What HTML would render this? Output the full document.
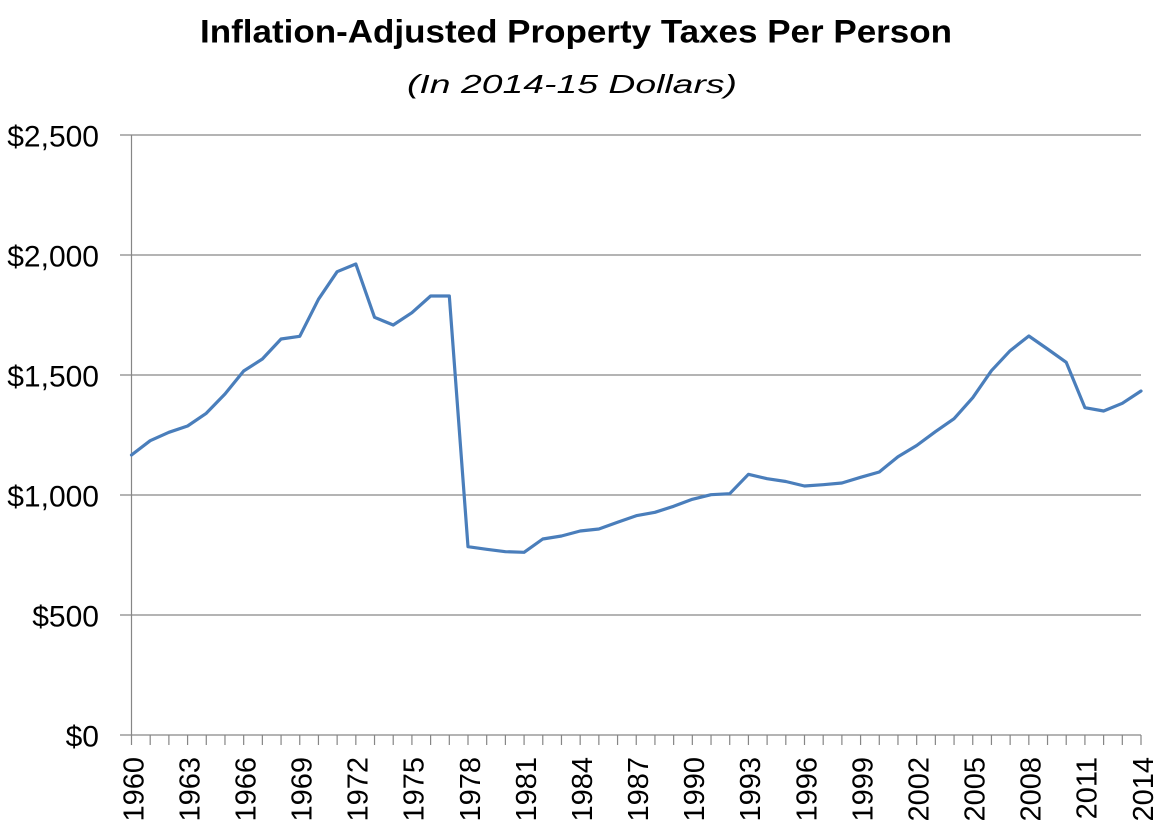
<!DOCTYPE html>
<html>
<head>
<meta charset="utf-8">
<style>
html,body{margin:0;padding:0;background:#fff;}
svg{display:block;}
</style>
</head>
<body>
<svg width="1157" height="833" viewBox="0 0 1157 833" xmlns="http://www.w3.org/2000/svg">
<rect width="1157" height="833" fill="#fff"/>
<text x="576" y="42.5" text-anchor="middle" font-family="Liberation Sans, sans-serif" font-weight="bold" font-size="32" textLength="752" lengthAdjust="spacingAndGlyphs" fill="#000">Inflation-Adjusted Property Taxes Per Person</text>
<text x="572" y="93" text-anchor="middle" font-family="Liberation Sans, sans-serif" font-style="italic" font-size="26" textLength="330" lengthAdjust="spacingAndGlyphs" fill="#000">(In 2014-15 Dollars)</text>

<g stroke="#868686" stroke-width="1.2" fill="none">
<line x1="120" y1="135" x2="1141" y2="135"/>
<line x1="120" y1="255" x2="1141" y2="255"/>
<line x1="120" y1="375" x2="1141" y2="375"/>
<line x1="120" y1="495" x2="1141" y2="495"/>
<line x1="120" y1="615" x2="1141" y2="615"/>
<line x1="120" y1="735" x2="1141" y2="735"/>
<line x1="131.5" y1="135" x2="131.5" y2="735"/>
<path d="M131.5 735V745M150.19 735V745M168.89 735V745M187.58 735V745M206.28 735V745M224.97 735V745M243.67 735V745M262.36 735V745M281.06 735V745M299.75 735V745M318.44 735V745M337.14 735V745M355.83 735V745M374.53 735V745M393.22 735V745M411.92 735V745M430.61 735V745M449.31 735V745M468 735V745M486.69 735V745M505.39 735V745M524.08 735V745M542.78 735V745M561.47 735V745M580.17 735V745M598.86 735V745M617.56 735V745M636.25 735V745M654.94 735V745M673.64 735V745M692.33 735V745M711.03 735V745M729.72 735V745M748.42 735V745M767.11 735V745M785.81 735V745M804.5 735V745M823.19 735V745M841.89 735V745M860.58 735V745M879.28 735V745M897.97 735V745M916.67 735V745M935.36 735V745M954.06 735V745M972.75 735V745M991.44 735V745M1010.14 735V745M1028.83 735V745M1047.53 735V745M1066.22 735V745M1084.92 735V745M1103.61 735V745M1122.31 735V745M1141 735V745"/>
</g>

<g font-family="Liberation Sans, sans-serif" font-size="30" fill="#000" text-anchor="end">
<text x="99" y="146.5">$2,500</text>
<text x="99" y="266.5">$2,000</text>
<text x="99" y="386.5">$1,500</text>
<text x="99" y="506.5">$1,000</text>
<text x="99" y="626.5">$500</text>
<text x="99" y="746.5">$0</text>
</g>

<g font-family="Liberation Sans, sans-serif" font-size="29" fill="#000" text-anchor="end">
<text transform="translate(143.3,757) rotate(-90)">1960</text>
<text transform="translate(199.38,757) rotate(-90)">1963</text>
<text transform="translate(255.47,757) rotate(-90)">1966</text>
<text transform="translate(311.55,757) rotate(-90)">1969</text>
<text transform="translate(367.63,757) rotate(-90)">1972</text>
<text transform="translate(423.72,757) rotate(-90)">1975</text>
<text transform="translate(479.8,757) rotate(-90)">1978</text>
<text transform="translate(535.88,757) rotate(-90)">1981</text>
<text transform="translate(591.97,757) rotate(-90)">1984</text>
<text transform="translate(648.05,757) rotate(-90)">1987</text>
<text transform="translate(704.13,757) rotate(-90)">1990</text>
<text transform="translate(760.22,757) rotate(-90)">1993</text>
<text transform="translate(816.3,757) rotate(-90)">1996</text>
<text transform="translate(872.38,757) rotate(-90)">1999</text>
<text transform="translate(928.47,757) rotate(-90)">2002</text>
<text transform="translate(984.55,757) rotate(-90)">2005</text>
<text transform="translate(1040.63,757) rotate(-90)">2008</text>
<text transform="translate(1096.72,757) rotate(-90)">2011</text>
<text transform="translate(1152.8,757) rotate(-90)">2014</text>
</g>

<polyline fill="none" stroke="#4A7EBB" stroke-width="3.2" stroke-linejoin="round" stroke-linecap="round" points="131.5,455 150.19,440.7 168.89,432.3 187.58,426 206.28,413.3 224.97,394 243.67,371 262.36,359 281.06,339 299.75,336.3 318.44,299.3 337.14,271.7 355.83,264 374.53,317.3 393.22,325 411.92,312.7 430.61,296 449.31,296 468,546.7 486.69,549.3 505.39,551.7 524.08,552.3 542.78,539 561.47,536 580.17,531 598.86,529 617.56,522.3 636.25,515.7 654.94,512.3 673.64,506.3 692.33,499.3 711.03,494.7 729.72,493.7 748.42,474.3 767.11,478.7 785.81,481.5 804.5,486 823.19,484.7 841.89,483 860.58,477.3 879.28,472 897.97,456.7 916.67,445.5 935.36,431.7 954.06,418.7 972.75,397.7 991.44,370.7 1010.14,350.7 1028.83,336 1047.53,349 1066.22,362.3 1084.92,407.7 1103.61,411 1122.31,403.3 1141,391"/>
</svg>
</body>
</html>
